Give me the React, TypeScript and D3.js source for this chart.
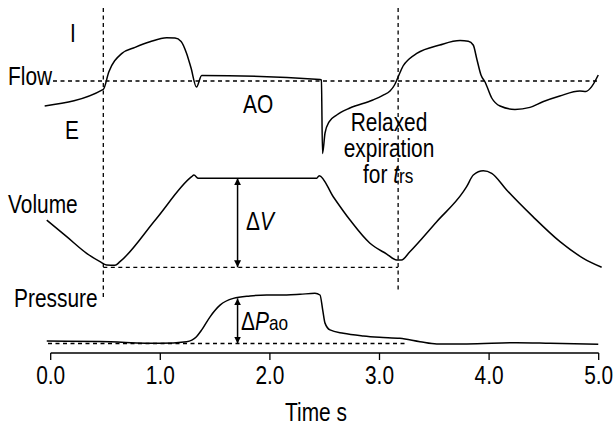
import React from "react";
import * as d3 from "d3";

// ---- Data (time in s, values in relative units) ----
const flowT = [-0.055, 0.48, 0.53, 0.65, 0.77, 0.906, 1.058, 1.134, 1.19, 1.24, 1.28, 1.33, 1.378, 2.457, 2.47, 2.48, 2.503, 2.54, 2.61, 2.73, 2.94, 3.03, 3.096, 3.137, 3.17, 3.215, 3.27, 3.34, 3.55, 3.735, 3.81, 3.855, 3.89, 3.926, 3.963, 4.024, 4.1, 4.236, 4.373, 4.49, 4.645, 4.828, 4.883, 4.936, 4.996];
const flowV = [-0.625, -0.21, 0.225, 0.69, 0.84, 0.98, 1.08, 1.075, 0.99, 0.69, 0.33, -0.15, 0.14, 0.04, 0.025, -1.81, -1.3, -1.02, -0.85, -0.675, -0.475, -0.36, -0.25, -0.1, 0.1, 0.375, 0.55, 0.69, 0.9, 1.01, 0.995, 0.9, 0.525, 0.15, -0.025, -0.425, -0.625, -0.71, -0.66, -0.52, -0.375, -0.25, -0.26, -0.14, 0.15];

const volT = [-0.036, 0.146, 0.328, 0.45, 0.51, 0.587, 0.632, 0.96, 1.286, 1.307, 1.347, 2.427, 2.45, 2.578, 2.731, 2.913, 3.066, 3.157, 3.2, 3.277, 3.52, 3.765, 3.795, 3.856, 3.947, 4.024, 4.16, 4.4, 4.647, 4.86, 5.027];
const volV = [0.53, 0.344, 0.157, 0.063, 0.026, 0.022, 0.063, 0.54, 1.018, 1.037, 1.0, 1.0, 1.03, 0.793, 0.531, 0.27, 0.149, 0.082, 0.082, 0.175, 0.51, 0.85, 0.906, 1.037, 1.085, 1.056, 0.869, 0.569, 0.288, 0.101, 0.0];

const presT = [-0.036, 0.45, 1.0, 1.24, 1.33, 1.378, 1.454, 1.545, 1.666, 1.818, 1.97, 2.153, 2.275, 2.411, 2.457, 2.482, 2.503, 2.548, 2.67, 2.852, 3.0, 3.186, 3.37, 3.522, 3.796, 4.252, 4.556, 4.996];
const presV = [0.05, 0.04, 0.004, 0.037, 0.14, 0.28, 0.55, 0.79, 0.93, 0.98, 1.0, 1.0, 1.014, 1.035, 1.0, 0.69, 0.42, 0.28, 0.21, 0.155, 0.128, 0.107, 0.037, -0.01, -0.01, 0.016, 0.004, -0.016];

const tickValues = [0, 1, 2, 3, 4, 5];
const tickLabels = ["0.0", "1.0", "2.0", "3.0", "4.0", "5.0"];
const markerTimes = [0.48, 3.17];
const arrowTime = 1.705;

const FONT = "'Liberation Sans', Arial, sans-serif";
const SX = 0.82;

function T(props: { x: number; y: number; anchor?: string; size?: number; children: React.ReactNode }) {
  const { x, y, anchor = "start", size = 25.5, children } = props;
  return (
    <text transform={`translate(${x},${y}) scale(${SX},1)`} textAnchor={anchor} fontSize={size} fontFamily={FONT} fill="#000">
      {children}
    </text>
  );
}

export default function App() {
  const x = d3.scaleLinear().domain([0, 5]).range([50.7, 598.7]);
  const yFlow = d3.scaleLinear().domain([0, 1]).range([81, 41]);
  const yVol = d3.scaleLinear().domain([0, 1]).range([267.3, 178.3]);
  const yPres = d3.scaleLinear().domain([0, 1]).range([343.5, 295]);

  const mk = (ts: number[], vs: number[], ys: d3.ScaleLinear<number, number>) =>
    d3
      .line<number>()
      .x((_, i) => x(ts[i]))
      .y((d) => ys(d))
      .curve(d3.curveMonotoneX)(vs) as string;

  const flowPath = mk(flowT, flowV, yFlow);
  const volPath = mk(volT, volV, yVol);
  const presPath = mk(presT, presV, yPres);

  const dash = "4,3.5";
  const axisY = 353;

  return (
    <svg width={615} height={432} style={{ position: "absolute", left: 0, top: 0, background: "#fff" }}>
      <defs>
        <marker id="ah" viewBox="0 0 10 10" refX="10" refY="5" markerWidth="7" markerHeight="9" markerUnits="userSpaceOnUse" orient="auto-start-reverse">
          <path d="M0,0 L10,5 L0,10 z" fill="#000" />
        </marker>
      </defs>
      <rect width={615} height={432} fill="#fff" />
      {/* dashed reference lines */}
      <line x1={x(markerTimes[0])} x2={x(markerTimes[0])} y1={8} y2={300} stroke="#000" strokeWidth={1.3} strokeDasharray={dash} />
      <line x1={x(markerTimes[1])} x2={x(markerTimes[1])} y1={8} y2={292} stroke="#000" strokeWidth={1.3} strokeDasharray={dash} />
      <line x1={53} x2={598} y1={yFlow(0)} y2={yFlow(0)} stroke="#000" strokeWidth={1.3} strokeDasharray={dash} />
      <line x1={x(markerTimes[0])} x2={x(markerTimes[1])} y1={yVol(0)} y2={yVol(0)} stroke="#000" strokeWidth={1.3} strokeDasharray={dash} />
      <line x1={48} x2={408} y1={yPres(0)} y2={yPres(0)} stroke="#000" strokeWidth={1.3} strokeDasharray={dash} />

      {/* curves */}
      <path d={flowPath} fill="none" stroke="#000" strokeWidth={1.5} />
      <path d={volPath} fill="none" stroke="#000" strokeWidth={1.5} />
      <path d={presPath} fill="none" stroke="#000" strokeWidth={1.5} />

      {/* arrows */}
      <line x1={x(arrowTime)} x2={x(arrowTime)} y1={yVol(1)} y2={yVol(0)} stroke="#000" strokeWidth={1.5} markerStart="url(#ah)" markerEnd="url(#ah)" />
      <line x1={x(arrowTime)} x2={x(arrowTime)} y1={yPres(0.93)} y2={yPres(0)} stroke="#000" strokeWidth={1.5} markerStart="url(#ah)" markerEnd="url(#ah)" />

      {/* labels */}
      <T x={70} y={42}>I</T>
      <T x={8} y={85}>Flow</T>
      <T x={65} y={139}>E</T>
      <T x={243} y={113}>AO</T>
      <T x={389} y={131} anchor="middle">Relaxed</T>
      <T x={389} y={157} anchor="middle">expiration</T>
      <T x={363} y={183}>for <tspan fontStyle="italic">t</tspan><tspan fontSize={21}>rs</tspan></T>
      <T x={8} y={213}>Volume</T>
      <T x={246} y={230}>Δ<tspan fontStyle="italic">V</tspan></T>
      <T x={14} y={307}>Pressure</T>
      <T x={241} y={330}>Δ<tspan fontStyle="italic">P</tspan><tspan fontSize={21}>ao</tspan></T>

      {/* axis */}
      <line x1={x(0)} x2={x(5)} y1={axisY} y2={axisY} stroke="#000" strokeWidth={1.3} />
      {tickValues.map((t, i) => (
        <g key={t}>
          <line x1={x(t)} x2={x(t)} y1={axisY} y2={axisY + 7} stroke="#000" strokeWidth={1.3} />
          <T x={x(t)} y={384} anchor="middle">{tickLabels[i]}</T>
        </g>
      ))}
      <T x={316} y={421} anchor="middle">Time s</T>
    </svg>
  );
}
